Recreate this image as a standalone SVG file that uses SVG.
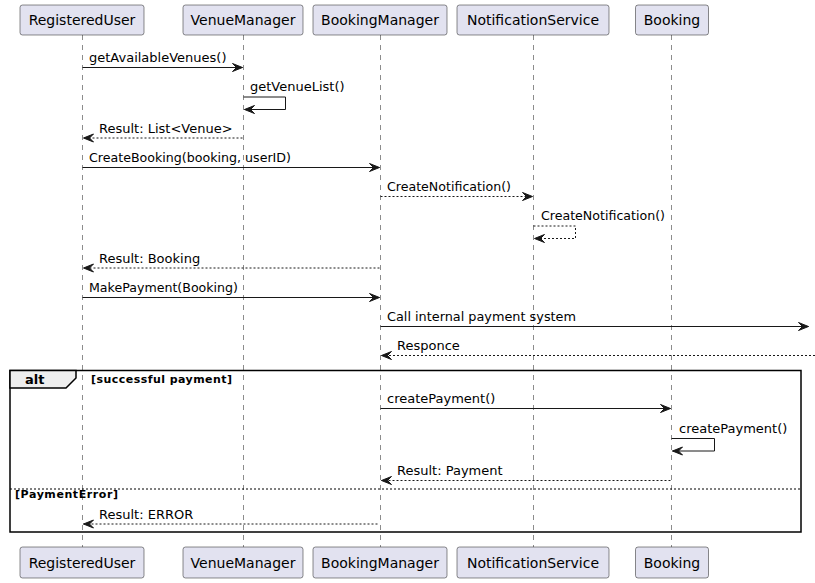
<svg xmlns="http://www.w3.org/2000/svg" width="815" height="583" viewBox="0 0 815 583">
  <defs>
    <marker id="arrow" markerUnits="userSpaceOnUse" markerWidth="12" markerHeight="10" refX="10" refY="4" orient="auto" overflow="visible">
      <path d="M0,0 L10,4 L0,8 L4,4 Z" fill="#181818" stroke="#181818" stroke-width="1"/>
    </marker>
  </defs>
  <style>
    .box { fill: #E2E2F0; stroke: #181818; stroke-width: 0.5; }
    .life { stroke: #181818; stroke-width: 0.5; stroke-dasharray: 5,5; fill: none; }
    .pname { font-family: "DejaVu Sans", sans-serif; font-size: 14px; fill: #000; text-anchor: middle; }
    .msg { stroke: #181818; stroke-width: 1; fill: none; marker-end: url(#arrow); }
    .ret { stroke-dasharray: 2,2; }
    .lbl { font-family: "DejaVu Sans", sans-serif; font-size: 13px; fill: #000; }
    .frame { fill: none; stroke: #000; stroke-width: 1.5; }
    .tab { fill: #EEEEEE; stroke: #000; stroke-width: 1.5; }
    .kw { font-family: "DejaVu Sans", sans-serif; font-size: 13px; font-weight: bold; fill: #000; }
    .guard { font-family: "DejaVu Sans", sans-serif; font-size: 11px; font-weight: bold; fill: #000; }
    .sep { stroke: #000; stroke-width: 1; stroke-dasharray: 2,2; }
  </style>

  <!-- lifelines -->
  <g id="lifelines">
    <line class="life" x1="82.5" y1="35" x2="82.5" y2="547"/>
    <line class="life" x1="243.5" y1="35" x2="243.5" y2="547"/>
    <line class="life" x1="380.5" y1="35" x2="380.5" y2="547"/>
    <line class="life" x1="533.5" y1="35" x2="533.5" y2="547"/>
    <line class="life" x1="671.5" y1="35" x2="671.5" y2="547"/>
  </g>

  <!-- participants (head and foot) -->
  <g id="RegisteredUser">
    <rect class="box" x="20" y="5" width="124" height="30" rx="2.5"/>
    <text class="pname" x="82" y="25">RegisteredUser</text>
    <rect class="box" x="20" y="547" width="124" height="31" rx="2.5"/>
    <text class="pname" x="82" y="568">RegisteredUser</text>
  </g>
  <g id="VenueManager">
    <rect class="box" x="183" y="5" width="120" height="30" rx="2.5"/>
    <text class="pname" x="243" y="25">VenueManager</text>
    <rect class="box" x="183" y="547" width="120" height="31" rx="2.5"/>
    <text class="pname" x="243" y="568">VenueManager</text>
  </g>
  <g id="BookingManager">
    <rect class="box" x="313" y="5" width="134" height="30" rx="2.5"/>
    <text class="pname" x="380" y="25">BookingManager</text>
    <rect class="box" x="313" y="547" width="134" height="31" rx="2.5"/>
    <text class="pname" x="380" y="568">BookingManager</text>
  </g>
  <g id="NotificationService">
    <rect class="box" x="457" y="5" width="152" height="30" rx="2.5"/>
    <text class="pname" x="533" y="25">NotificationService</text>
    <rect class="box" x="457" y="547" width="152" height="31" rx="2.5"/>
    <text class="pname" x="533" y="568">NotificationService</text>
  </g>
  <g id="Booking">
    <rect class="box" x="635.5" y="5" width="73" height="30" rx="2.5"/>
    <text class="pname" x="672" y="25">Booking</text>
    <rect class="box" x="635.5" y="547" width="73" height="31" rx="2.5"/>
    <text class="pname" x="672" y="568">Booking</text>
  </g>

  <!-- alt fragment -->
  <g id="alt">
    <rect class="frame" x="10" y="370.5" width="791" height="161.5"/>
    <path class="tab" d="M10,370.5 H76 V378 L66,388 H10 Z"/>
    <text class="kw" x="25" y="384">alt</text>
    <text class="guard" x="91" y="383" textLength="141" lengthAdjust="spacing">[successful payment]</text>
    <line class="sep" x1="10" y1="489" x2="801" y2="489"/>
    <text class="guard" x="15" y="498" textLength="103" lengthAdjust="spacing">[PaymentError]</text>
  </g>

  <!-- connectors -->
  <g id="connectors">
    <path class="msg" d="M82.5,67.5 H242.5"/>
    <path class="msg" d="M243.5,97 H285.5 V109.5 H244.5"/>
    <path class="msg ret" d="M242.5,138 H83.5"/>
    <path class="msg" d="M82.5,167.5 H379.5"/>
    <path class="msg ret" d="M380.5,196.5 H532.5"/>
    <path class="msg ret" d="M533.5,226 H575.5 V238.5 H534.5"/>
    <path class="msg ret" d="M379.5,268 H83.5"/>
    <path class="msg" d="M82.5,297.5 H379.5"/>
    <path class="msg" d="M380.5,326.5 H808.5"/>
    <path class="msg ret" d="M815,355.5 H381.5"/>
    <path class="msg" d="M380.5,408.5 H670.5"/>
    <path class="msg" d="M671.5,438.5 H714.5 V451 H672.5"/>
    <path class="msg ret" d="M670.5,480.5 H381.5"/>
    <path class="msg ret" d="M377.5,524 H83.5"/>
  </g>

  <!-- message labels -->
  <g id="labels">
    <text class="lbl" x="89" y="62">getAvailableVenues()</text>
    <text class="lbl" x="250" y="91">getVenueList()</text>
    <text class="lbl" x="99" y="133">Result: List&lt;Venue&gt;</text>
    <text class="lbl" x="89" y="162" textLength="202" lengthAdjust="spacingAndGlyphs">CreateBooking(booking, userID)</text>
    <text class="lbl" x="387" y="191" textLength="124" lengthAdjust="spacingAndGlyphs">CreateNotification()</text>
    <text class="lbl" x="541" y="220" textLength="124" lengthAdjust="spacingAndGlyphs">CreateNotification()</text>
    <text class="lbl" x="99" y="263">Result: Booking</text>
    <text class="lbl" x="89" y="292" textLength="149" lengthAdjust="spacingAndGlyphs">MakePayment(Booking)</text>
    <text class="lbl" x="387" y="321" textLength="189" lengthAdjust="spacingAndGlyphs">Call internal payment system</text>
    <text class="lbl" x="397" y="350">Responce</text>
    <text class="lbl" x="387" y="403">createPayment()</text>
    <text class="lbl" x="679" y="433">createPayment()</text>
    <text class="lbl" x="397" y="475">Result: Payment</text>
    <text class="lbl" x="99" y="519">Result: ERROR</text>
  </g>
</svg>
